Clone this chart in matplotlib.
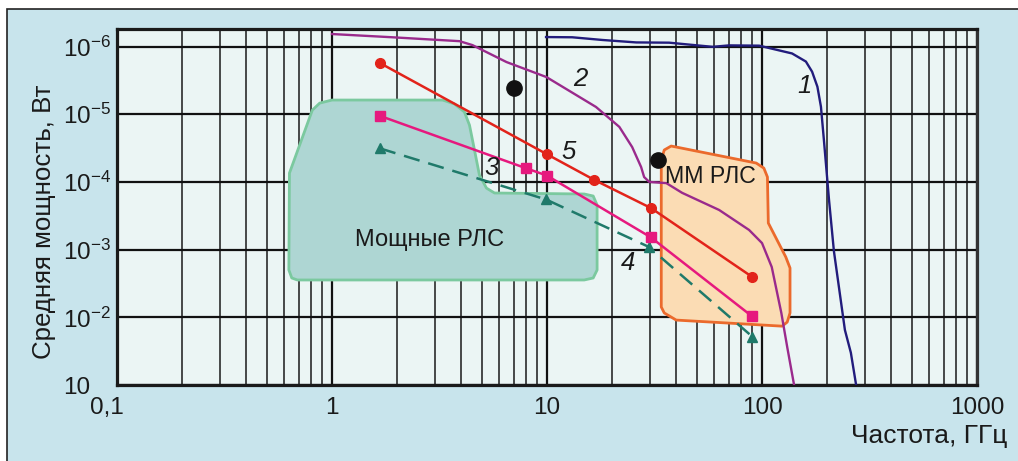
import numpy as np
import matplotlib
matplotlib.use('Agg')
import matplotlib.pyplot as plt
from matplotlib.patches import Polygon, Rectangle
from matplotlib.ticker import FixedLocator, NullLocator
import matplotlib.transforms as mtransforms

plt.rcParams['font.family'] = ['Liberation Sans', 'DejaVu Sans']
plt.rcParams['mathtext.default'] = 'regular'

# ---------------- data ----------------
# curve 1
x1 = [9.9, 13.1, 18.1, 26, 37, 58.9, 70.3, 97, 138, 160, 171, 181, 188, 194, 205, 216, 243, 259, 274]
y1 = [1.38e6, 1.37e6, 1.25e6, 1.15e6, 1.14e6, 9.9e5, 1.04e6, 1.03e6, 7.9e5, 6.0e5, 4.25e5,
      2.55e5, 1.29e5, 4.2e4, 5.4e3, 950, 65, 30, 10]
# curve 2
x2 = [1.0, 1.91, 3.92, 4.5, 6.48, 9.94, 16.9, 21.7, 24.9, 27.4, 28.3, 29.9, 35.9, 42.5, 63.2,
      87.1, 100, 111, 123, 131, 141]
y2 = [1.53e6, 1.37e6, 1.2e6, 1.05e6, 5.9e5, 3.54e5, 1.28e5, 6.5e4, 3.27e4, 1.66e4, 1.18e4,
      1.0e4, 9.6e3, 6.9e3, 3.85e3, 1.95e3, 1.25e3, 553, 116, 36.4, 10]
# curve 5 (red, circles)
x5 = [1.68, 10, 16.6, 30.5, 89.7]
y5 = [5.65e5, 2.56e4, 1.07e4, 4.1e3, 398]
# curve 3 (magenta, squares)
x3 = [1.68, 8.0, 10, 30.4, 89.7]
y3 = [9.4e4, 1.59e4, 1.24e4, 1.52e3, 104]
# curve 4 (teal dashed, triangles)
x4 = [1.67, 9.9, 29.7, 90.2]
y4 = [3.13e4, 5.5e3, 1.1e3, 51.7]
# black dots
dots_x = [7.06, 32.9]
dots_y = [2.46e5, 2.1e4]

# region "Мощные РЛС"
green_x = [0.65, 0.63, 0.634, 0.81, 0.877, 1.0, 3.27, 3.71, 4.13, 4.36, 4.6, 4.85, 5.23, 5.7,
           14.9, 16.4, 17.1, 17.1, 16.4, 14.9, 0.69]
green_y = [381, 500, 1.35e4, 1.15e5, 1.46e5, 1.62e5, 1.62e5, 1.42e5, 1.08e5, 6.9e4, 2.96e4,
           1.26e4, 8.1e3, 6.86e3, 6.63e3, 6.19e3, 4.56e3, 500, 381, 356, 356]
# region "ММ РЛС"
mm_x = [34, 35.1, 37.8, 94, 102, 106, 107, 129, 135, 135, 131, 124, 39.9, 35.1, 34]
mm_y = [2.1e4, 2.96e4, 3.39e4, 1.9e4, 1.6e4, 1.18e4, 2.47e3, 778, 535, 116, 85, 74, 91, 116, 142]

xticks = [0.1, 1, 10, 100, 1000]
xticklabels = ['0,1', '1', '10', '100', '1000']
yticks = [10, 1e2, 1e3, 1e4, 1e5, 1e6]
yticklabels = ['10', r'$10^{-2}$', r'$10^{-3}$', r'$10^{-4}$', r'$10^{-5}$', r'$10^{-6}$']

curve_labels = ['1', '2', '3', '4', '5']
curve_label_x = [158, 14.3, 5.52, 23.9, 12.6]
curve_label_y = [2.6e5, 3.3e5, 1.6e4, 634, 2.77e4]

# ---------------- figure ----------------
W, H = 1018, 461
fig = plt.figure(figsize=(W / 100, H / 100), dpi=100)
fig.patch.set_facecolor('white')
fig.add_artist(Rectangle((7 / W, -0.1), 1.2, 1.1 - 9 / H, transform=fig.transFigure,
                         facecolor='#C8E4EC', edgecolor='#222222', lw=1.2, zorder=0))

ax = fig.add_axes([117 / W, 76 / H, 860 / W, 356 / H])
ax.set_facecolor('#EBF5F4')
ax.set_xscale('log')
ax.set_yscale('log')
ax.set_xlim(0.1, 1000)
ax.set_ylim(10, 10 ** 6.259)

ax.xaxis.set_major_locator(FixedLocator(xticks))
ax.set_xticklabels(xticklabels)
minors = [m * 10.0 ** e for e in range(-1, 3) for m in range(2, 10)]
ax.xaxis.set_minor_locator(FixedLocator(minors))
ax.yaxis.set_major_locator(FixedLocator(yticks))
ax.set_yticklabels(yticklabels)
ax.yaxis.set_minor_locator(NullLocator())

ax.set_axisbelow(True)
ax.grid(which='major', axis='both', color='#111111', lw=1.6)
ax.grid(which='minor', axis='x', color='#222222', lw=1.15)
ax.tick_params(which='both', length=0)
ax.tick_params(axis='x', pad=8.5, labelsize=17.5, colors='#1a1a1a')
ax.tick_params(axis='y', pad=39, labelsize=17.5, colors='#1a1a1a')
for lab in ax.get_yticklabels():
    lab.set_ha('left')
xl = ax.get_xticklabels()
xl[0].set_transform(xl[0].get_transform() + mtransforms.ScaledTranslation(-0.10, 0, fig.dpi_scale_trans))

for s in ax.spines.values():
    s.set_linewidth(2.3)
    s.set_color('#1a1a1a')
ax.spines['right'].set_color('#333333')

# regions
ax.add_patch(Polygon(np.column_stack([green_x, green_y]), closed=True, facecolor='#AED6D3',
                     edgecolor='#7BC99F', lw=2.0, joinstyle='round', zorder=1.5))
ax.add_patch(Polygon(np.column_stack([mm_x, mm_y]), closed=True, facecolor='#FBDCB4',
                     edgecolor='#EB6A2C', lw=2.0, joinstyle='round', zorder=1.5))

# curves
ax.plot(x1, y1, color='#221C7C', lw=1.7, zorder=3, solid_joinstyle='round')
ax.plot(x2, y2, color='#9A2A8C', lw=1.7, zorder=3, solid_joinstyle='round')
ax.plot(x5, y5, color='#E2231A', lw=1.8, marker='o', ms=7, zorder=3.2)
ax.plot(x3, y3, color='#E6197E', lw=1.8, marker='s', ms=6.5, zorder=3.1)
ax.plot(x4, y4, color='#1F7A6A', lw=1.8, ls=(0, (6.5, 3.6)), marker='^', ms=7.5, zorder=3)
ax.plot(dots_x, dots_y, ls='none', marker='o', ms=11, color='#111111', zorder=4)

for t, x, y in zip(curve_labels, curve_label_x, curve_label_y):
    ax.text(x, y, t, fontsize=18.5, style='italic', ha='center', va='center', color='#1a1a1a', zorder=5)

ax.text(2.84, 1.39e3, 'Мощные РЛС', fontsize=17, ha='center', va='center', color='#1a1a1a', zorder=5)
ax.text(35.5, 1.22e4, 'ММ РЛС', fontsize=16.7, ha='left', va='center', color='#1a1a1a', zorder=5)

fig.text(44 / W, 1 - 222 / H, 'Средняя мощность, Вт', rotation=90, fontsize=18.6,
         ha='center', va='center', color='#1a1a1a')
fig.text(1007 / W, 1 - 443 / H, 'Частота, ГГц', fontsize=19, ha='right', va='baseline',
         color='#1a1a1a')

fig.savefig('out.png', dpi=100, facecolor=fig.get_facecolor())
